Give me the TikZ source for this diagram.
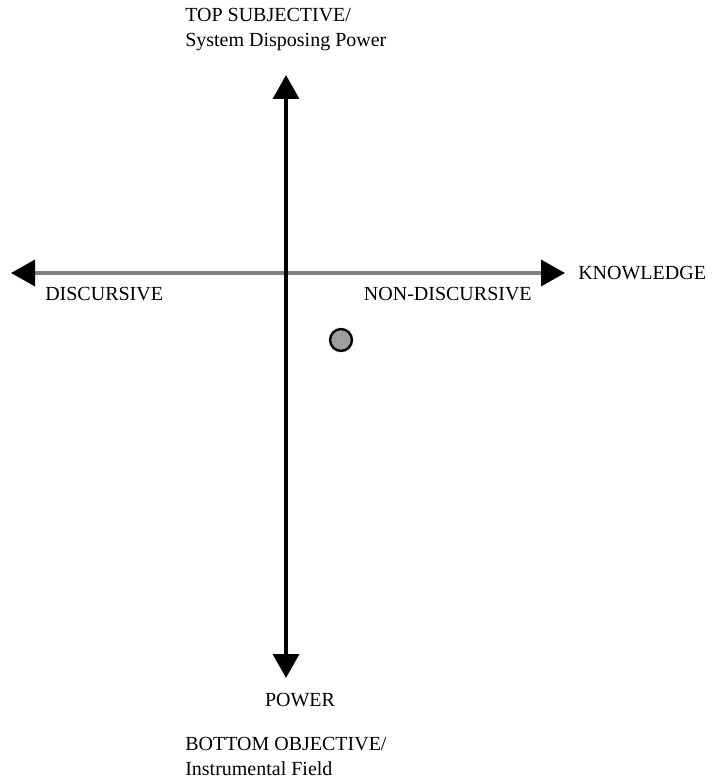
\documentclass[tikz,border=0pt]{standalone}
\usepackage{fontspec}
\setmainfont{Liberation Serif}
\usetikzlibrary{arrows.meta}

\begin{document}
\begin{tikzpicture}[line cap=butt,line join=miter,x=0.75pt,y=-0.75pt,
    axis/.style={line width=2.6pt,-{Triangle[length=18pt,width=19.5pt,black]}},
    lbl/.style={inner sep=0pt,font=\fontsize{15}{18.75}\selectfont,align=left}]
                \useasboundingbox (0,0) rectangle (712,781);
                \coordinate (O) at (286,273);
                \coordinate (top) at (286,75);
                \coordinate (bot) at (286,678);
                \coordinate (left) at (11,273);
                \coordinate (right) at (565,273);
                \draw [axis,color=black!50] (O)-- (left);
                \draw [axis,color=black!50] (O)-- (right);
                \draw [axis,color=black] (O)-- (top);
                \draw [axis,color=black] (O)-- (bot);
                \draw [line width=1.8pt,fill=black!38] (341,340) circle (8.2pt);
                \node[lbl,anchor=west] (topsub) at (185,29.5) {TOP SUBJECTIVE/\\System Disposing Power};
                \node[lbl,anchor=west] (know) at (578,273) {KNOWLEDGE};
                \node[lbl,anchor=west] (disc) at (45,294) {DISCURSIVE};
                \node[lbl,anchor=east] (nondisc) at (532,294) {NON-DISCURSIVE};
                \node[lbl] (power) at (300,700) {POWER};
                \node[lbl,anchor=west] (botobj) at (185,756) {BOTTOM OBJECTIVE/\\Instrumental Field};
            \end{tikzpicture}
\end{document}
